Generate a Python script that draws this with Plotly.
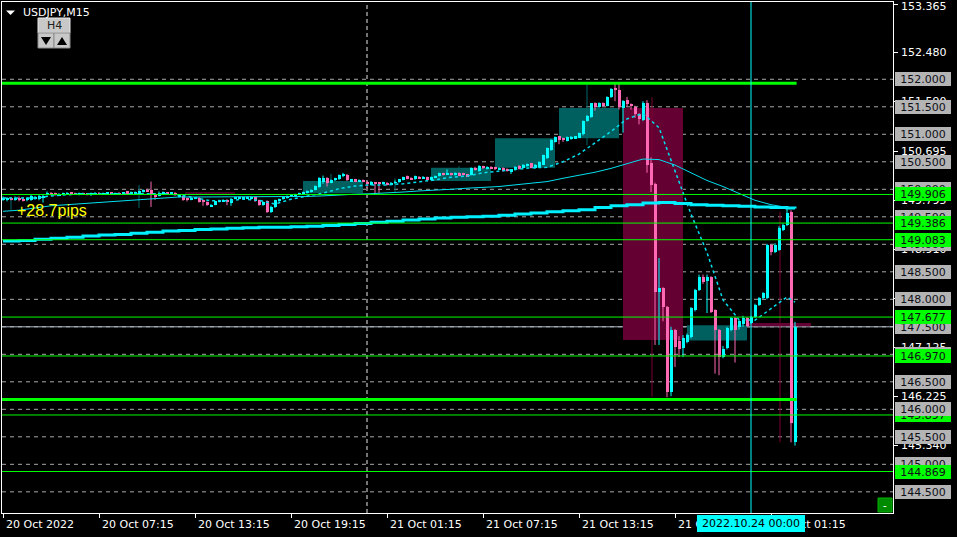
import plotly.graph_objects as go

# ---------------- data ----------------
symbol_title = "USDJPY,M15"
x_tick_bars = [0, 24, 48, 72, 96, 120, 144, 168, 192]
x_tick_text = ["20 Oct 2022", "20 Oct 07:15", "20 Oct 13:15", "20 Oct 19:15",
               "21 Oct 01:15", "21 Oct 07:15", "21 Oct 13:15", "21 Oct 19:15",
               "24 Oct 01:15"]
cursor_bar = 187
cursor_label = "2022.10.24 00:00"
day_sep_bar = 91

y_tick_vals = [153.365, 152.480, 151.590, 150.695, 149.795, 148.910, 148.020,
               147.125, 146.225, 145.340]

opens = [
 149.81,149.81,149.84,149.81,149.85,149.83,149.80,149.81,149.83,149.83,
 149.84,149.90,149.94,149.93,149.89,149.91,149.91,149.94,149.93,149.91,
 149.93,149.92,149.90,149.92,149.93,149.91,149.92,149.94,149.92,149.93,
 149.92,149.96,149.93,149.93,149.93,149.95,149.99,149.98,149.90,149.88,
 149.92,149.94,149.92,149.94,149.86,149.88,149.84,149.81,149.83,149.85,
 149.79,149.77,149.69,149.72,149.77,149.78,149.81,149.75,149.83,149.83,
 149.83,149.84,149.82,149.86,149.80,149.71,149.78,149.59,149.68,149.78,
 149.82,149.84,149.88,149.89,149.90,149.91,149.93,149.95,149.99,150.04,
 150.13,150.21,150.12,150.16,150.18,150.25,150.26,150.15,150.18,150.14,
 150.17,150.14,150.08,150.12,150.12,150.09,150.12,150.09,150.12,150.13,
 150.17,150.24,150.21,150.18,150.23,150.20,150.22,150.17,150.21,150.24,
 150.29,150.27,150.29,150.26,150.30,150.29,150.27,150.26,150.39,150.33,
 150.42,150.37,150.41,150.40,150.36,150.39,150.37,150.33,150.35,150.43,
 150.39,150.42,150.47,150.38,150.40,150.45,150.57,150.72,150.86,150.96,
 150.93,150.88,150.92,150.93,150.94,151.00,151.24,151.32,151.57,151.49,
 151.57,151.52,151.68,151.84,151.80,151.48,151.63,151.55,151.50,151.36,
 151.26,151.57,150.47,150.10,148.13,148.20,147.86,146.31,147.44,147.25,
 147.12,147.22,147.31,147.80,148.17,148.40,148.33,148.40,147.80,147.44,
 146.95,147.11,147.44,147.66,147.50,147.55,147.66,147.57,147.68,147.90,
 148.02,148.02,148.99,148.86,148.90,149.26,149.35,149.59,145.40]
highs = [
 149.87,149.86,149.86,149.87,149.87,149.85,149.86,149.90,149.88,149.90,
 149.91,149.96,149.95,149.94,149.93,149.94,149.95,149.95,149.94,149.94,
 149.94,149.93,149.94,149.95,149.95,149.94,149.95,149.95,149.94,149.95,
 149.95,149.97,149.96,149.96,149.98,150.00,150.01,150.14,149.92,149.96,
 149.96,149.95,149.95,149.95,149.90,149.89,149.85,149.86,149.86,149.86,
 149.80,149.78,149.73,149.79,149.81,149.82,149.82,149.84,149.85,149.87,
 149.86,149.87,149.87,149.87,149.81,149.78,149.80,149.70,149.81,149.83,
 149.87,149.89,149.90,149.92,149.94,149.96,149.98,150.00,150.07,150.22,
 150.25,150.22,150.18,150.21,150.27,150.30,150.28,150.19,150.19,150.18,
 150.18,150.15,150.15,150.13,150.13,150.14,150.13,150.13,150.16,150.19,
 150.23,150.25,150.22,150.25,150.24,150.24,150.23,150.23,150.25,150.30,
 150.30,150.36,150.30,150.31,150.31,150.30,150.28,150.40,150.41,150.44,
 150.43,150.42,150.42,150.41,150.40,150.40,150.38,150.37,150.42,150.44,
 150.46,150.47,150.48,150.46,150.51,150.63,150.76,150.91,150.96,150.97,
 150.94,150.96,150.97,150.97,151.03,151.25,151.35,151.57,151.58,151.58,
 151.58,151.69,151.84,151.92,151.94,151.62,151.68,151.56,151.52,151.38,
 151.60,151.62,150.58,150.12,148.75,148.22,147.88,147.50,147.46,147.33,
 147.35,147.38,147.86,148.19,148.45,148.45,148.45,148.42,147.82,147.46,
 147.15,147.50,147.68,147.68,147.62,147.70,147.68,147.70,147.92,148.04,
 148.13,149.01,149.00,149.02,149.33,149.38,149.68,149.62,147.59]
lows = [
 149.79,149.78,149.80,149.79,149.78,149.78,149.78,149.79,149.81,149.80,
 149.76,149.89,149.89,149.88,149.88,149.90,149.90,149.91,149.90,149.89,
 149.90,149.89,149.88,149.91,149.90,149.90,149.91,149.91,149.90,149.91,
 149.91,149.92,149.92,149.92,149.92,149.94,149.95,149.68,149.81,149.87,
 149.91,149.91,149.91,149.88,149.85,149.79,149.78,149.80,149.82,149.76,
 149.70,149.70,149.68,149.71,149.76,149.77,149.71,149.70,149.82,149.82,
 149.82,149.83,149.81,149.77,149.70,149.70,149.57,149.57,149.66,149.77,
 149.81,149.83,149.87,149.88,149.89,149.90,149.92,149.94,149.98,150.03,
 150.10,150.05,150.11,150.15,150.17,150.22,150.15,150.14,150.13,150.13,
 150.13,150.02,150.07,149.93,149.93,150.08,150.07,150.08,150.10,150.12,
 150.16,150.18,150.17,150.17,150.19,150.19,150.16,150.16,150.20,150.23,
 150.25,150.26,150.25,150.25,150.24,150.25,150.23,150.25,150.34,150.32,
 150.37,150.36,150.37,150.35,150.35,150.32,150.32,150.28,150.34,150.36,
 150.38,150.41,150.38,150.37,150.39,150.44,150.55,150.70,150.85,150.82,
 150.86,150.87,150.90,150.92,150.93,150.98,151.23,151.30,151.43,151.48,
 151.51,151.51,151.66,151.60,151.45,151.03,151.50,151.45,151.30,151.18,
 151.24,150.30,149.95,147.17,147.17,147.60,146.22,146.24,146.77,146.95,
 146.95,147.20,147.29,147.78,148.15,148.28,147.75,147.75,146.65,146.62,
 146.93,147.09,147.42,146.85,147.45,147.50,147.50,147.55,147.66,147.88,
 148.00,148.00,148.80,148.84,148.88,149.24,149.33,145.40,145.34]
closes = [
 149.85,149.84,149.82,149.85,149.80,149.80,149.85,149.88,149.86,149.88,
 149.88,149.94,149.90,149.89,149.92,149.92,149.93,149.92,149.91,149.93,
 149.91,149.90,149.93,149.93,149.92,149.93,149.94,149.92,149.93,149.92,
 149.94,149.93,149.95,149.95,149.96,149.99,149.96,149.91,149.86,149.94,
 149.94,149.92,149.94,149.89,149.88,149.81,149.81,149.84,149.85,149.77,
 149.77,149.72,149.72,149.78,149.80,149.81,149.76,149.83,149.84,149.86,
 149.85,149.86,149.86,149.78,149.72,149.77,149.59,149.68,149.80,149.82,
 149.86,149.88,149.89,149.91,149.93,149.95,149.97,149.99,150.06,150.20,
 150.21,150.12,150.17,150.20,150.26,150.26,150.16,150.18,150.14,150.17,
 150.14,150.10,150.14,150.11,150.11,150.13,150.08,150.12,150.13,150.18,
 150.22,150.19,150.18,150.24,150.20,150.23,150.17,150.22,150.24,150.29,
 150.26,150.30,150.26,150.30,150.25,150.26,150.24,150.39,150.35,150.43,
 150.38,150.41,150.38,150.36,150.39,150.33,150.33,150.36,150.41,150.37,
 150.45,150.46,150.39,150.45,150.50,150.62,150.75,150.90,150.95,150.90,
 150.89,150.95,150.95,150.96,151.02,151.24,151.33,151.56,151.50,151.56,
 151.52,151.68,151.83,151.81,151.50,151.60,151.55,151.51,151.36,151.27,
 151.57,150.45,150.08,148.13,148.20,147.86,146.31,147.44,147.14,147.10,
 147.30,147.35,147.84,148.17,148.40,148.31,148.40,147.77,147.44,146.95,
 147.10,147.48,147.66,147.44,147.60,147.66,147.52,147.68,147.90,148.02,
 148.11,148.99,148.86,148.99,149.30,149.35,149.57,145.75,147.50]

# moving averages sampled every 4 bars (last point = last bar)
ma_bars = [0, 4, 8, 12, 16, 20, 24, 28, 32, 36, 40, 44, 48, 52, 56, 60, 64, 68,
           72, 76, 80, 84, 88, 92, 96, 100, 104, 108, 112, 116, 120, 124, 128,
           132, 136, 140, 144, 148, 152, 156, 160, 164, 168, 172, 176, 180, 184,
           188, 192, 196, 198]
ma_slow = [149.06,149.07,149.09,149.11,149.13,149.15,149.17,149.18,149.20,149.22,
           149.24,149.25,149.27,149.28,149.29,149.30,149.31,149.31,149.32,149.33,
           149.34,149.36,149.38,149.40,149.42,149.44,149.46,149.48,149.49,149.50,
           149.51,149.53,149.55,149.57,149.59,149.61,149.63,149.67,149.70,149.72,
           149.75,149.76,149.74,149.72,149.71,149.70,149.69,149.68,149.67,149.66,
           149.65]
ma_mid = [149.60,149.62,149.66,149.70,149.72,149.74,149.77,149.79,149.81,149.83,
          149.85,149.86,149.86,149.86,149.86,149.86,149.86,149.86,149.86,149.87,
          149.88,149.90,149.91,149.92,149.93,149.95,149.97,149.98,150.00,150.02,
          150.03,150.05,150.08,150.11,150.14,150.20,150.25,150.31,150.38,150.46,
          150.55,150.54,150.44,150.30,150.16,150.05,149.93,149.80,149.72,149.67,
          149.66]
ma_fast = [149.84,149.84,149.84,149.88,149.90,149.92,149.92,149.92,149.92,149.93,
           149.92,149.90,149.84,149.79,149.79,149.82,149.80,149.73,149.82,149.88,
           149.93,150.01,150.06,150.08,150.08,150.10,150.13,150.17,150.22,150.24,
           150.30,150.33,150.35,150.39,150.40,150.50,150.64,150.84,151.05,151.28,
           151.38,151.12,150.35,149.55,148.85,147.99,147.63,147.62,147.83,148.04,
           147.95]

round_levels = [152.0, 151.5, 151.0, 150.5, 150.0, 149.5, 149.0, 148.5, 148.0,
                147.5, 147.0, 146.5, 146.0, 145.5, 145.0, 144.5]
green_levels = [149.906, 149.386, 149.083, 147.677, 146.970, 145.897, 144.869]
thick_green_levels = [151.93, 146.18]
thick_green_end = 198.4
bid_price = 147.5

zone_start = [75, 107, 123, 139, 171, 155, 186, 45.5]
zone_end = [90, 122, 138, 154, 186, 170, 202, 58]
zone_top = [150.15, 150.39, 150.93, 151.48, 147.53, 151.48, 147.57, 149.945]
zone_bottom = [149.93, 150.15, 150.39, 150.93, 147.25, 147.26, 147.51, 149.92]
zone_kind = ["demand", "demand", "demand", "demand", "demand", "supply", "supply", "supply"]

teal_wick_bar = [2, 34, 82, 98, 114, 146]
teal_wick_lo = [149.62, 149.66, 150.17, 149.95, 150.39, 150.80]
teal_wick_hi = [149.86, 150.08, 150.28, 150.20, 150.42, 151.90]
maroon_wick_bar = [162.25, 194.25]
maroon_wick_lo = [146.23, 145.40]
maroon_wick_hi = [151.67, 149.59]

pips_text = "+28.7pips"

# ---------------- style ----------------
UP = "#00ffff"
DOWN = "#ff69b4"
FONT = "DejaVu Sans"
W, H = 957, 537
PL, PR, PT, PB = 2, 893, 2, 513


def px(x):
    return (x - PL) / (PR - PL)


def py(y):
    return 1 - (y - PT) / (PB - PT)


fig = go.Figure()

n = len(closes)
bars = list(range(n))

# wicks
for up, col in ((True, UP), (False, DOWN)):
    xs, ys = [], []
    for i in bars:
        if (closes[i] >= opens[i]) == up:
            xs += [i, i, None]
            ys += [lows[i], highs[i], None]
    fig.add_trace(go.Scatter(x=xs, y=ys, mode="lines", line=dict(color=col, width=1),
                             hoverinfo="skip"))

# bodies
base = [min(o, c) for o, c in zip(opens, closes)]
hgt = [max(abs(c - o), 0.012) for o, c in zip(opens, closes)]
cols = [UP if c >= o else DOWN for o, c in zip(opens, closes)]
fig.add_trace(go.Bar(x=bars, y=hgt, base=base, width=0.75,
                     marker=dict(color=cols, line=dict(width=0)), hoverinfo="skip"))

# moving averages
fig.add_trace(go.Scatter(x=ma_bars, y=ma_slow, mode="lines", line_shape="hv",
                         line=dict(color="#00f0ff", width=3), hoverinfo="skip"))
fig.add_trace(go.Scatter(x=ma_bars, y=ma_mid, mode="lines",
                         line=dict(color="#00e0f0", width=1), hoverinfo="skip"))
fig.add_trace(go.Scatter(x=ma_bars, y=ma_fast, mode="lines",
                         line=dict(color="#00e0f0", width=1.5, dash="dot"), hoverinfo="skip"))

shapes = []
# zones
for x0, x1, t, b, k in zip(zone_start, zone_end, zone_top, zone_bottom, zone_kind):
    shapes.append(dict(type="rect", xref="x", yref="y", x0=x0, x1=x1, y0=b, y1=t,
                       fillcolor="#005f5f" if k == "demand" else "#640032",
                       line=dict(width=0), layer="below"))
# indicator wicks
for b, lo, hi in zip(teal_wick_bar, teal_wick_lo, teal_wick_hi):
    shapes.append(dict(type="line", xref="x", yref="y", x0=b, x1=b, y0=lo, y1=hi,
                       line=dict(color="#006868", width=1), layer="below"))
for b, lo, hi in zip(maroon_wick_bar, maroon_wick_lo, maroon_wick_hi):
    shapes.append(dict(type="line", xref="x", yref="y", x0=b, x1=b, y0=lo, y1=hi,
                       line=dict(color="#7a0030", width=1), layer="below"))
# round-number dashed levels
for lv in round_levels:
    shapes.append(dict(type="line", xref="paper", yref="y", x0=0, x1=1, y0=lv, y1=lv,
                       line=dict(color="#a8a8a8", width=1, dash="4px,4px"), layer="below"))
# day separator
shapes.append(dict(type="line", xref="x", yref="paper", x0=day_sep_bar, x1=day_sep_bar,
                   y0=0, y1=1, line=dict(color="#e8e8e8", width=1, dash="4px,3px"),
                   layer="below"))
# bid line
shapes.append(dict(type="line", xref="paper", yref="y", x0=0, x1=1, y0=bid_price,
                   y1=bid_price, line=dict(color="#b0b8c8", width=1), layer="below"))
# green levels
for lv in green_levels:
    shapes.append(dict(type="line", xref="paper", yref="y", x0=0, x1=1, y0=lv, y1=lv,
                       line=dict(color="#00ff00", width=1), layer="above"))
for lv in thick_green_levels:
    shapes.append(dict(type="line", xref="x", yref="y", x0=-0.25, x1=thick_green_end,
                       y0=lv, y1=lv, line=dict(color="#00ff00", width=3), layer="above"))
# cursor vertical line
shapes.append(dict(type="line", xref="x", yref="paper", x0=cursor_bar, x1=cursor_bar,
                   y0=0, y1=1, line=dict(color="#00ffff", width=1), layer="above"))

# top-left widgets
shapes.append(dict(type="path", xref="paper", yref="paper",
                   path=f"M {px(6)},{py(10.5)} L {px(15)},{py(10.5)} L {px(10.5)},{py(15)} Z",
                   fillcolor="white", line=dict(width=0)))
shapes.append(dict(type="rect", xref="paper", yref="paper", x0=px(38), x1=px(70),
                   y0=py(33), y1=py(18), fillcolor="#c8c8c8", line=dict(color="#e8e8e8", width=1)))
for bx0, bx1 in ((38, 54), (54, 70)):
    shapes.append(dict(type="rect", xref="paper", yref="paper", x0=px(bx0), x1=px(bx1),
                       y0=py(48), y1=py(33), fillcolor="#c8c8c8",
                       line=dict(color="#8c8c8c", width=1)))
shapes.append(dict(type="path", xref="paper", yref="paper",
                   path=f"M {px(41)},{py(37)} L {px(51)},{py(37)} L {px(46)},{py(45)} Z",
                   fillcolor="black", line=dict(width=0)))
shapes.append(dict(type="path", xref="paper", yref="paper",
                   path=f"M {px(57)},{py(45)} L {px(67)},{py(45)} L {px(62)},{py(37)} Z",
                   fillcolor="black", line=dict(width=0)))
# bottom-right button
shapes.append(dict(type="rect", xref="paper", yref="paper", x0=px(878), x1=px(892),
                   y0=py(512), y1=py(498), fillcolor="#008a00",
                   line=dict(color="#00b400", width=1)))

annotations = []
annotations.append(dict(text=symbol_title, xref="paper", yref="paper", x=px(21), y=py(12.5),
                        xanchor="left", yanchor="middle", showarrow=False,
                        font=dict(family=FONT, size=11, color="white")))
annotations.append(dict(text="H4", xref="paper", yref="paper", x=px(54), y=py(25.5),
                        xanchor="center", yanchor="middle", showarrow=False,
                        font=dict(family=FONT, size=11, color="#202020")))
annotations.append(dict(text="-", xref="paper", yref="paper", x=px(885), y=py(505),
                        xanchor="center", yanchor="middle", showarrow=False,
                        font=dict(family=FONT, size=10, color="white")))
annotations.append(dict(text=pips_text, xref="paper", yref="paper", x=px(15), y=py(211),
                        xanchor="left", yanchor="middle", showarrow=False,
                        font=dict(family="Liberation Sans", size=16, color="#ffff00")))

# right-axis price labels (white); the top one nudged inside the page
for v in y_tick_vals:
    annotations.append(dict(text=f"{v:.3f}", xref="paper", yref="y", x=1, xshift=6, y=v,
                            xanchor="left", yanchor="middle", showarrow=False,
                            yshift=-2 if v == max(y_tick_vals) else 0,
                            font=dict(family=FONT, size=11, color="white")))

# x-axis labels
for b, t in zip(x_tick_bars, x_tick_text):
    annotations.append(dict(text=t, xref="x", yref="paper", x=b, y=py(524),
                            xanchor="left", yanchor="middle", xshift=1, showarrow=False,
                            font=dict(family=FONT, size=11, color="white")))
annotations.append(dict(text=cursor_label, xref="x", yref="paper", x=cursor_bar, y=py(523.5),
                        xanchor="center", yanchor="middle", showarrow=False,
                        bgcolor="#00ffff", borderpad=2, borderwidth=0, width=104,
                        font=dict(family=FONT, size=11, color="black")))


def price_box(lv, fill):
    return dict(text=f"{lv:.3f}", xref="paper", yref="y", x=1, xshift=2, y=lv,
                xanchor="left", yanchor="middle", showarrow=False, bgcolor=fill,
                borderpad=1, borderwidth=0, width=54, height=12,
                font=dict(family=FONT, size=11, color="#101018"))


under_green = [lv for lv in green_levels if lv == 145.897]
over_green = [lv for lv in green_levels if lv != 145.897]
for lv in under_green:
    annotations.append(price_box(lv, "#00ff00"))
for lv in round_levels:
    annotations.append(price_box(lv, "#b4b4b4"))
for lv in over_green:
    annotations.append(price_box(lv, "#00ff00"))

fig.update_layout(
    width=W, height=H,
    margin=dict(l=PL, r=W - PR, t=PT, b=H - PB, pad=0),
    paper_bgcolor="black", plot_bgcolor="black",
    showlegend=False, bargap=0,
    shapes=shapes, annotations=annotations,
    xaxis=dict(range=[-0.25, 222.5], showgrid=False, zeroline=False, showline=True,
               linecolor="white", linewidth=1, mirror=True, ticks="outside",
               tickvals=x_tick_bars, ticklen=4, tickcolor="white",
               showticklabels=False, fixedrange=True),
    yaxis=dict(range=[144.115, 153.405], side="right", showgrid=False, zeroline=False,
               showline=True, linecolor="white", linewidth=1, mirror=True,
               ticks="outside", ticklen=4, tickcolor="white", tickvals=y_tick_vals,
               showticklabels=False, automargin=False, fixedrange=True),
)

fig.write_html("out.html",
               config={"displayModeBar": False},
               post_script="document.body.style.margin='0px';"
                           "document.body.style.background='black';")
